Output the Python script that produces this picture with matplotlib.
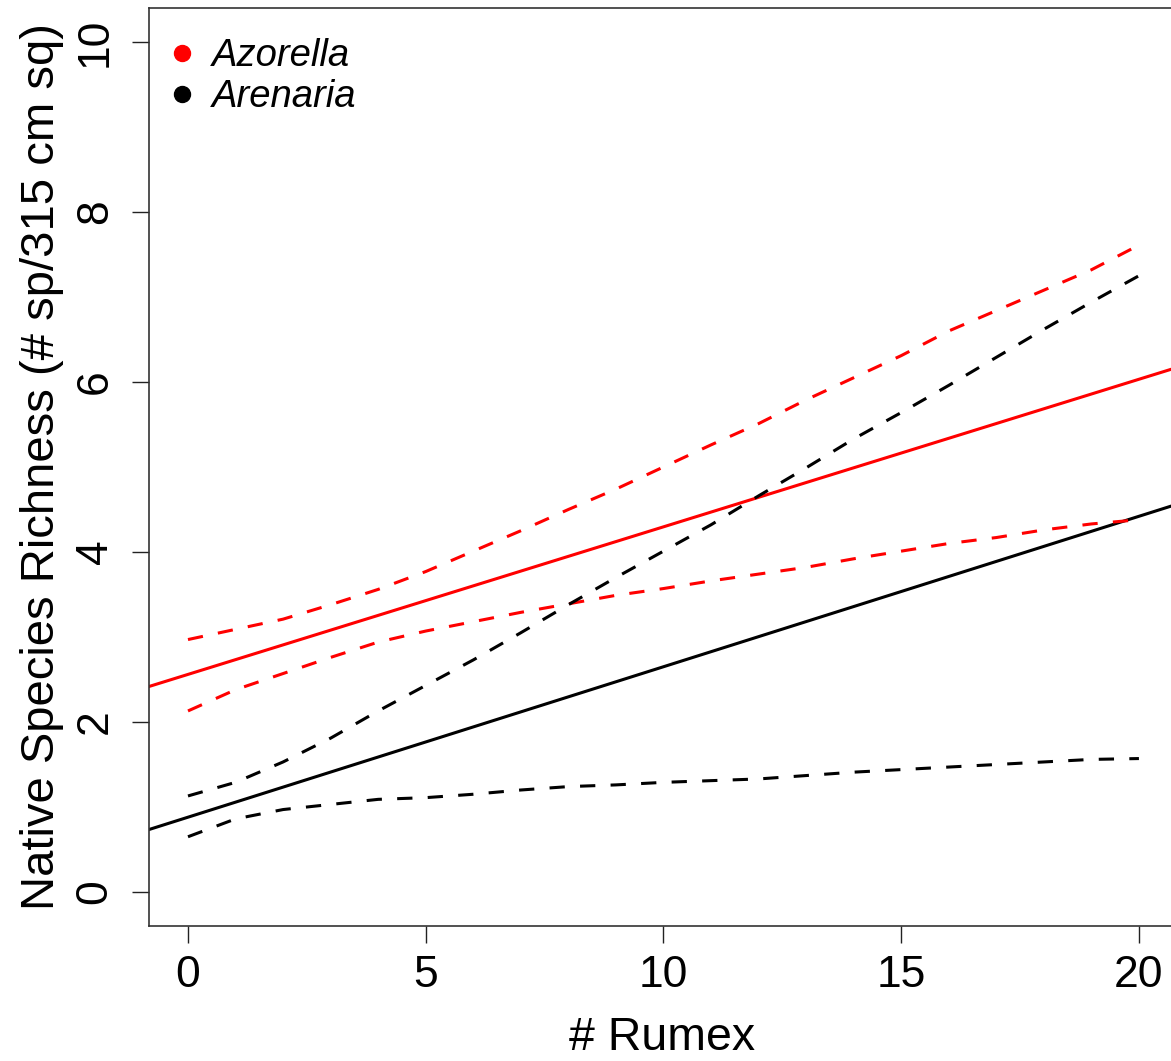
import matplotlib
matplotlib.use("Agg")
import matplotlib.pyplot as plt
from matplotlib.lines import Line2D

# --------------------------------------------------------------
# Data
# --------------------------------------------------------------

rumex = list(range(21))

# fitted lines (intercept, slope)
azorella_fit = (2.56, 0.1736)
arenaria_fit = (0.88, 0.177)

# confidence bands
azorella_upper = [2.97, 3.09, 3.21, 3.38, 3.56, 3.77, 4.01, 4.25, 4.50, 4.74, 5.00,
                  5.26, 5.51, 5.79, 6.05, 6.31, 6.60, 6.84, 7.08, 7.32, 7.61]
azorella_lower = [2.13, 2.38, 2.57, 2.76, 2.94, 3.07, 3.18, 3.29, 3.39, 3.49, 3.57,
                  3.66, 3.74, 3.82, 3.92, 4.01, 4.10, 4.17, 4.26, 4.33, 4.38]
arenaria_upper = [1.13, 1.29, 1.53, 1.81, 2.13, 2.43, 2.73, 3.05, 3.38, 3.70, 4.01,
                  4.32, 4.66, 4.99, 5.33, 5.64, 5.96, 6.29, 6.62, 6.94, 7.25]
arenaria_lower = [0.65, 0.86, 0.97, 1.03, 1.09, 1.11, 1.15, 1.20, 1.24, 1.26, 1.29,
                  1.31, 1.33, 1.37, 1.41, 1.44, 1.47, 1.50, 1.53, 1.56, 1.57]

x_ticks = [0, 5, 10, 15, 20]
y_ticks = [0, 2, 4, 6, 8, 10]

# --------------------------------------------------------------
# Plot settings
# --------------------------------------------------------------
plt.rcParams["font.family"] = ["Liberation Sans", "DejaVu Sans"]

W, H = 1171, 1061
fig = plt.figure(figsize=(W / 100, H / 100), dpi=100)
ax = fig.add_axes([149 / W, (H - 926) / H, (1176 - 149) / W, 918 / H])

lw = 2.2
dash = (0, (5, 5))

# --------------------------------------------------------------
# Lines
# --------------------------------------------------------------
ax.axline((0, azorella_fit[0]), slope=azorella_fit[1], color="red", lw=lw)
ax.axline((0, arenaria_fit[0]), slope=arenaria_fit[1], color="black", lw=lw)

ax.plot(rumex, azorella_upper, color="red", lw=lw, linestyle=dash)
ax.plot(rumex, azorella_lower, color="red", lw=lw, linestyle=dash)
ax.plot(rumex, arenaria_upper, color="black", lw=lw, linestyle=dash)
ax.plot(rumex, arenaria_lower, color="black", lw=lw, linestyle=dash)

# --------------------------------------------------------------
# Axes
# --------------------------------------------------------------
ax.set_xlim(-0.82, 20.78)
ax.set_ylim(-0.4, 10.4)
ax.set_xticks(x_ticks)
ax.set_yticks(y_ticks)
ax.tick_params(axis="both", labelsize=32, length=12, width=1.0, direction="out",
               color="#222222")
ax.tick_params(axis="x", pad=9)
ax.tick_params(axis="y", pad=12)
for lab in ax.get_yticklabels():
    lab.set_rotation(90)
    lab.set_va("center")
for s in ax.spines.values():
    s.set_linewidth(1.2)
    s.set_color("#333333")

ax.set_xlabel("# Rumex", fontsize=33.5, labelpad=14)
ax.set_ylabel("Native Species Richness (# sp/315 cm sq)", fontsize=34, labelpad=8)

# --------------------------------------------------------------
# Legend
# --------------------------------------------------------------
handles = [Line2D([0], [0], marker="o", color="red", ls="none", markersize=11.5),
           Line2D([0], [0], marker="o", color="black", ls="none", markersize=11.5)]
ax.legend(handles, ["Azorella", "Arenaria"], loc="upper left",
          bbox_to_anchor=(0.018, 0.967), frameon=False, handlelength=0.75,
          handletextpad=0.4, labelspacing=0.12, borderpad=0, borderaxespad=0,
          prop={"style": "italic", "size": 27.5})

fig.savefig("out.png", dpi=100)
